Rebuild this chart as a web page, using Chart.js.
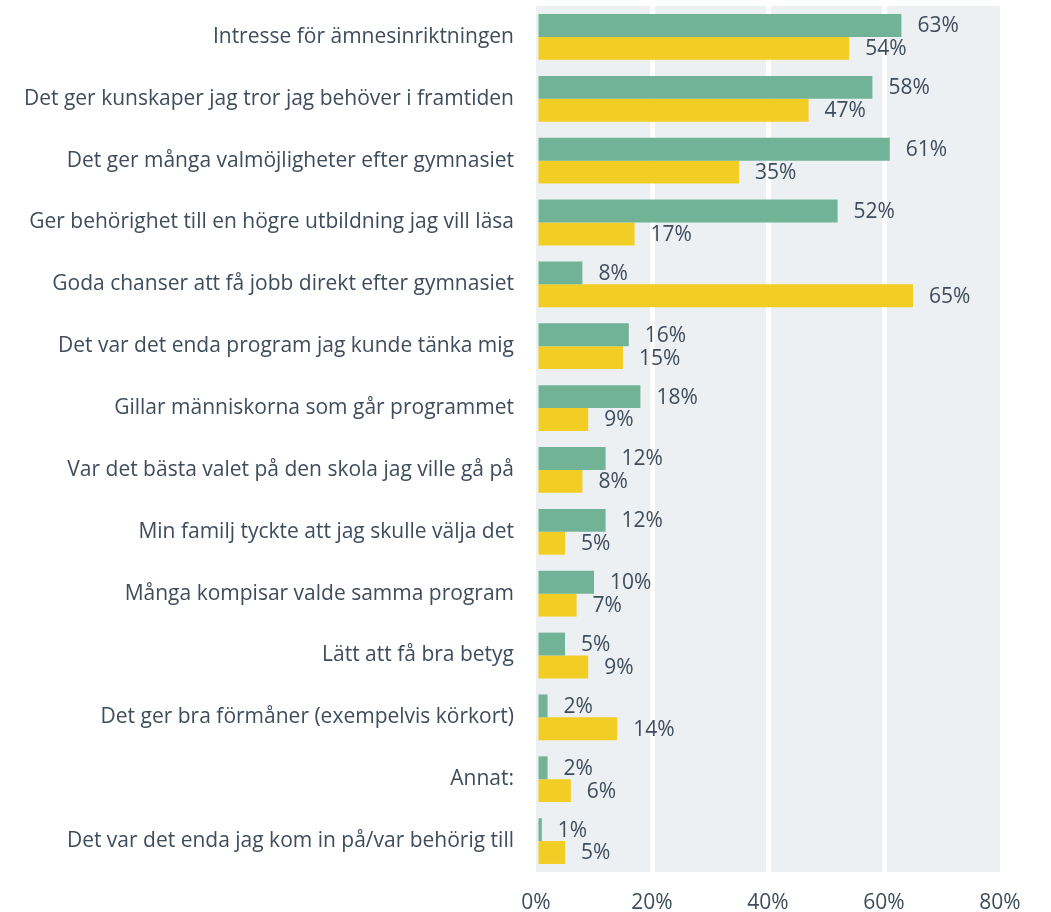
<!DOCTYPE html>
<html>
<head>
<meta charset="utf-8">
<script src="https://cdn.jsdelivr.net/npm/chart.js@4"></script>
<style>
  body { margin: 0; background: #fff; }
  #wrap { width: 1051px; height: 912px; }
</style>
</head>
<body>
<div id="wrap"><canvas id="chart" width="1051" height="912"></canvas></div>
<script>
// Kategorier och andelar (procent)
const categories = [
  'Intresse för ämnesinriktningen',
  'Det ger kunskaper jag tror jag behöver i framtiden',
  'Det ger många valmöjligheter efter gymnasiet',
  'Ger behörighet till en högre utbildning jag vill läsa',
  'Goda chanser att få jobb direkt efter gymnasiet',
  'Det var det enda program jag kunde tänka mig',
  'Gillar människorna som går programmet',
  'Var det bästa valet på den skola jag ville gå på',
  'Min familj tyckte att jag skulle välja det',
  'Många kompisar valde samma program',
  'Lätt att få bra betyg',
  'Det ger bra förmåner (exempelvis körkort)',
  'Annat:',
  'Det var det enda jag kom in på/var behörig till'
];
const greenValues = [63, 58, 61, 52, 8, 16, 18, 12, 12, 10, 5, 2, 2, 1];
const yellowValues = [54, 47, 35, 17, 65, 15, 9, 8, 5, 7, 9, 14, 6, 5];
const xTicks = [0, 20, 40, 60, 80];

const TEXT = '#3e4c5c';
const FONT = "'Open Sans', sans-serif";
const SIZE = 21;

// grå bakgrund i diagramytan
const bgPlugin = {
  id: 'plotBg',
  beforeDraw(chart) {
    const a = chart.chartArea;
    const ctx = chart.ctx;
    ctx.save();
    ctx.fillStyle = '#edf0f3';
    ctx.fillRect(a.left, a.top, a.right - a.left, a.bottom - a.top);
    ctx.restore();
  }
};

// procentetiketter till höger om staplarna
const labelPlugin = {
  id: 'barLabels',
  afterDatasetsDraw(chart) {
    const ctx = chart.ctx;
    ctx.save();
    ctx.font = SIZE + 'px ' + FONT;
    ctx.fillStyle = TEXT;
    ctx.textAlign = 'left';
    ctx.textBaseline = 'middle';
    chart.data.datasets.forEach((ds, i) => {
      chart.getDatasetMeta(i).data.forEach((bar, j) => {
        ctx.fillText(ds.data[j] + '%', bar.x + 16, bar.y + 1);
      });
    });
    ctx.restore();
  }
};

new Chart(document.getElementById('chart'), {
  type: 'bar',
  data: {
    labels: categories,
    datasets: [
      { label: 'A', data: greenValues, backgroundColor: '#70b396' },
      { label: 'B', data: yellowValues, backgroundColor: '#f2cd24' }
    ]
  },
  options: {
    indexAxis: 'y',
    responsive: false,
    animation: false,
    layout: { padding: { top: 6, right: 51, left: 0, bottom: 0 } },
    datasets: { bar: { categoryPercentage: 0.74, barPercentage: 1 } },
    plugins: { legend: { display: false }, tooltip: { enabled: false } },
    scales: {
      x: {
        min: 0,
        max: 80,
        afterBuildTicks(scale) { scale.ticks = xTicks.map(v => ({ value: v })); },
        afterFit(scale) { scale.height = 40; scale.paddingLeft = 0; scale.paddingRight = 0; },
        ticks: { color: TEXT, font: { size: SIZE, family: FONT }, padding: 18, callback: v => v + '%' },
        grid: { color: c => (c.tick.value === 0 || c.tick.value === 80) ? 'rgba(0,0,0,0)' : '#ffffff', lineWidth: 5, drawTicks: false },
        border: { display: false }
      },
      y: {
        afterFit(scale) { scale.width = 536; scale.paddingTop = 0; scale.paddingBottom = 0; },
        ticks: { color: TEXT, font: { size: SIZE, family: FONT }, padding: 22 },
        grid: { display: false, drawTicks: false },
        border: { display: false }
      }
    }
  },
  plugins: [bgPlugin, labelPlugin]
});
</script>
</body>
</html>
